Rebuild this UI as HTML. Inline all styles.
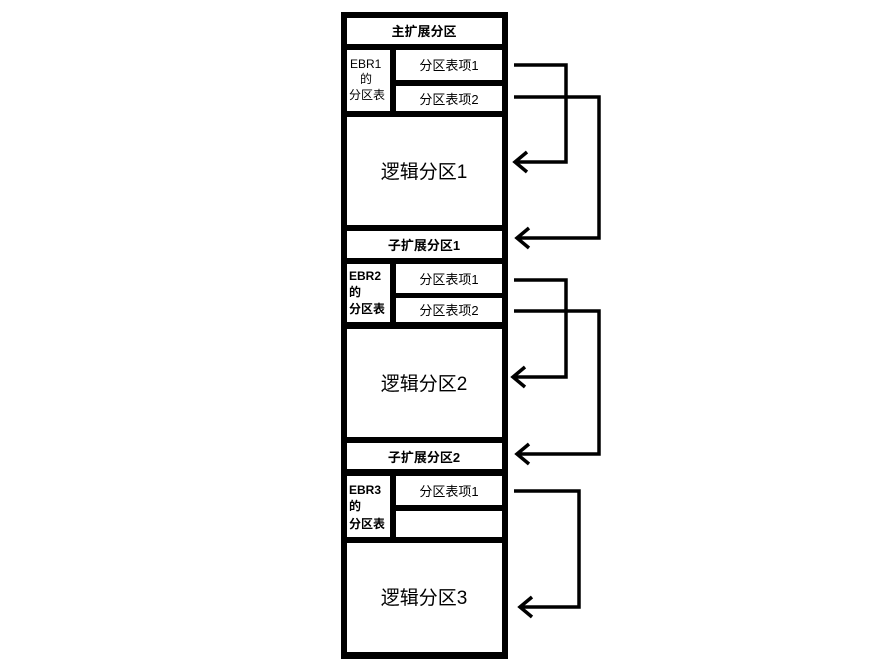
<!DOCTYPE html>
<html><head><meta charset="utf-8"><style>
body{margin:0;background:#fff;}
svg text{font-family:"Liberation Sans","Noto Sans CJK SC",sans-serif;fill:#000;}
.b{font-weight:bold;}
</style></head><body>
<svg width="882" height="661" xmlns="http://www.w3.org/2000/svg">
<rect x="341" y="12" width="167" height="647" fill="#000"/>
<g fill="#fff">
<rect x="347" y="18" width="155" height="26"/>
<rect x="347" y="50" width="43" height="61"/>
<rect x="396" y="50" width="106" height="30"/>
<rect x="396" y="86" width="106" height="25"/>
<rect x="347" y="117" width="155" height="108"/>
<rect x="347" y="231" width="155" height="27"/>
<rect x="347" y="264" width="43" height="58"/>
<rect x="396" y="264" width="106" height="29"/>
<rect x="396" y="298" width="106" height="24"/>
<rect x="347" y="329" width="155" height="108"/>
<rect x="347" y="443" width="155" height="26"/>
<rect x="347" y="476" width="43" height="61"/>
<rect x="396" y="476" width="106" height="29"/>
<rect x="396" y="511" width="106" height="26"/>
<rect x="347" y="543" width="155" height="109"/>
</g>
<g font-size="13" text-anchor="middle">
<text class="b" x="424" y="36">主扩展分区</text>
<text x="449" y="70">分区表项1</text>
<text x="449" y="104">分区表项2</text>
<text class="b" x="424" y="250">子扩展分区1</text>
<text x="449" y="284">分区表项1</text>
<text x="449" y="315">分区表项2</text>
<text class="b" x="424" y="462">子扩展分区2</text>
<text x="449" y="496">分区表项1</text>
</g>
<g font-size="12">
<text x="350" y="68">EBR1</text>
<text x="360" y="83">的</text>
<text x="349" y="99">分区表</text>
<text class="b" x="349" y="280">EBR2</text>
<text class="b" x="349" y="296">的</text>
<text class="b" x="349" y="313">分区表</text>
<text class="b" x="349" y="494">EBR3</text>
<text class="b" x="349" y="510">的</text>
<text class="b" x="349" y="528">分区表</text>
</g>
<g font-size="19" text-anchor="middle">
<text x="424" y="178">逻辑分区1</text>
<text x="424" y="390">逻辑分区2</text>
<text x="424" y="604">逻辑分区3</text>
</g>
<g fill="none" stroke="#000" stroke-width="3.5">
<polyline points="514,65 566,65 566,162 515,162"/>
<polyline points="527,152 515,162 527,172"/>
<polyline points="514,97 599,97 599,238 517,238"/>
<polyline points="529,228 517,238 529,248"/>
<polyline points="514,280 566,280 566,377 513,377"/>
<polyline points="525,367 513,377 525,387"/>
<polyline points="514,311 599,311 599,454 517,454"/>
<polyline points="529,444 517,454 529,464"/>
<polyline points="514,491 579,491 579,607 520,607"/>
<polyline points="532,597 520,607 532,617"/>
</g>
</svg>
</body></html>
